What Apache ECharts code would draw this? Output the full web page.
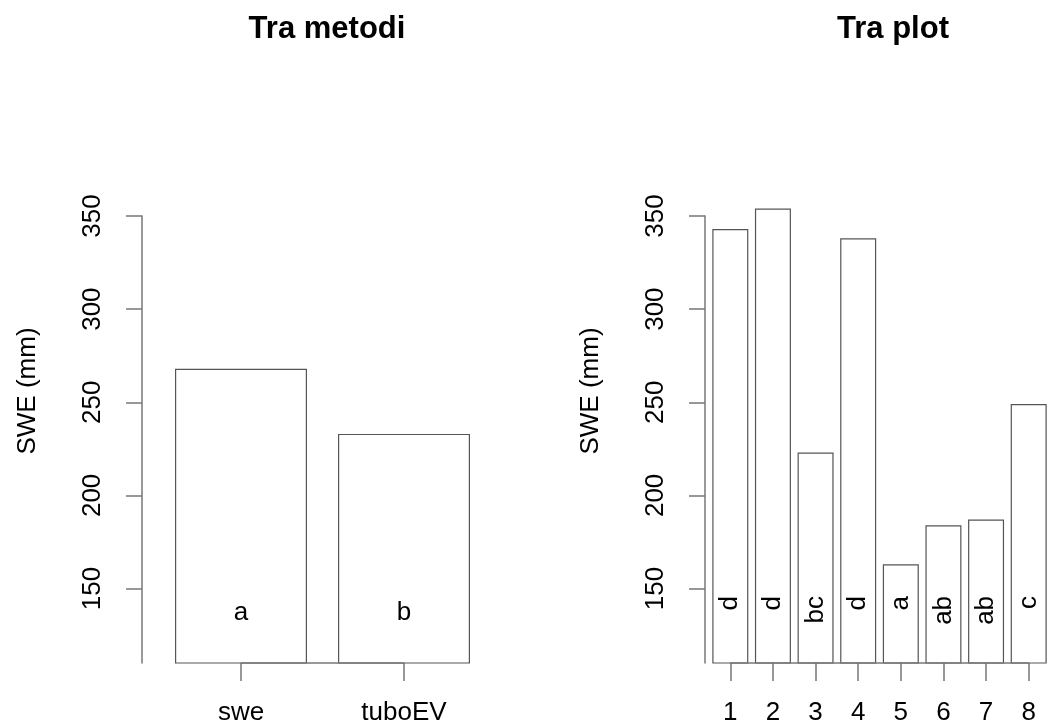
<!DOCTYPE html>
<html>
<head>
<meta charset="utf-8">
<script src="https://cdn.jsdelivr.net/npm/echarts@6/dist/echarts.min.js"></script>
<style>
html,body{margin:0;padding:0;background:#fff;}
#chart{width:1050px;height:728px;}
</style>
</head>
<body>
<div id="chart"></div>
<script>
// ---- data ----
const leftCategories = ['swe', 'tuboEV'];
const leftValues = [268, 233];
const leftLetters = ['a', 'b'];
const rightCategories = ['1', '2', '3', '4', '5', '6', '7', '8'];
const rightValues = [343, 354, 223, 338, 163, 184, 187, 249];
const rightLetters = ['d', 'd', 'bc', 'd', 'a', 'ab', 'ab', 'c'];
const yTickValues = [150, 200, 250, 300, 350];
const yMin = 110;
const yAxisMax = 350;   // top of the drawn y axis line
const yPlotMax = 360;   // top of the bar plotting area (bars may exceed the axis)
const leftLetterY = 137;
const rightLetterY = 146;
const titles = ['Tra metodi', 'Tra plot'];
const yName = 'SWE (mm)';

// ---- layout ----
const FONT = 'Liberation Sans, Arial, Helvetica, sans-serif';
const AXIS_COLOR = '#777';
const AXIS_TOP = 216, AXIS_BOTTOM = 663;
const PX_PER_UNIT = (AXIS_BOTTOM - AXIS_TOP) / (yAxisMax - yMin);
const PLOT_TOP = AXIS_BOTTOM - (yPlotMax - yMin) * PX_PER_UNIT;
const panels = [
  {left: 159.5, width: 326, offset: 17.5, barWidth: 132},
  {left: 709, width: 351, offset: 4, barWidth: 36}
];

const chart = echarts.init(document.getElementById('chart'), null, {renderer: 'canvas'});

const grids = [], xAxes = [], yAxes = [];
panels.forEach((p, k) => {
  const cats = k === 0 ? leftCategories : rightCategories;
  grids.push({left: p.left, width: p.width, top: PLOT_TOP, height: AXIS_BOTTOM - PLOT_TOP});
  grids.push({left: p.left, width: p.width, top: AXIS_TOP, height: AXIS_BOTTOM - AXIS_TOP});
  xAxes.push({
    type: 'category', gridIndex: 2 * k, data: cats,
    axisLine: {show: false},
    axisTick: {show: true, alignWithLabel: true, length: 18, lineStyle: {color: AXIS_COLOR, width: 1.5}},
    axisLabel: {show: true, color: '#000', fontSize: 26, fontFamily: FONT, margin: 37, interval: 0},
    splitLine: {show: false}
  });
  xAxes.push({type: 'category', gridIndex: 2 * k + 1, data: cats, show: false});
  yAxes.push({type: 'value', gridIndex: 2 * k, min: yMin, max: yPlotMax, show: false});
  yAxes.push({
    type: 'value', gridIndex: 2 * k + 1, min: yMin, max: yAxisMax, offset: p.offset,
    axisLine: {show: true, lineStyle: {color: AXIS_COLOR, width: 1.5}},
    axisTick: {show: true, length: 16, customValues: yTickValues, lineStyle: {color: AXIS_COLOR, width: 1.5}},
    axisLabel: {show: true, rotate: 90, customValues: yTickValues, color: '#000', fontSize: 26, fontFamily: FONT, margin: 36},
    splitLine: {show: false}
  });
});

function barSeries(k, cats, vals) {
  return {
    type: 'bar', xAxisIndex: 2 * k, yAxisIndex: 2 * k, data: vals, barWidth: panels[k].barWidth,
    silent: true, animation: false,
    itemStyle: {color: '#fff', borderColor: '#555', borderWidth: 1.2},
    markLine: {
      silent: true, symbol: ['none', 'none'], animation: false,
      label: {show: false},
      lineStyle: {color: AXIS_COLOR, width: 1.5, type: 'solid'},
      data: [[{coord: [cats[0], yMin]}, {coord: [cats[cats.length - 1], yMin]}]]
    }
  };
}
function letterSeries(k, cats, letters, yVal, rotated) {
  return {
    type: 'scatter', xAxisIndex: 2 * k, yAxisIndex: 2 * k,
    data: cats.map(c => [c, yVal]),
    symbolSize: 1, itemStyle: {color: 'rgba(0,0,0,0)'}, silent: true, animation: false,
    z: 5,
    label: {
      show: true, position: 'inside',
      formatter: p => letters[p.dataIndex],
      color: '#000', opacity: 1, fontSize: 26, fontFamily: FONT,
      rotate: rotated ? 90 : 0,
      align: rotated ? 'right' : 'center',
      verticalAlign: 'middle'
    }
  };
}

const option = {
  backgroundColor: '#fff',
  animation: false,
  title: [
    {text: titles[0], left: 322, top: 9, textAlign: 'center',
     textStyle: {fontSize: 31, fontWeight: 'bold', fontFamily: FONT, color: '#000'}},
    {text: titles[1], left: 888, top: 9, textAlign: 'center',
     textStyle: {fontSize: 31, fontWeight: 'bold', fontFamily: FONT, color: '#000'}}
  ],
  grid: grids,
  xAxis: xAxes,
  yAxis: yAxes,
  series: [
    barSeries(0, leftCategories, leftValues),
    barSeries(1, rightCategories, rightValues),
    letterSeries(0, leftCategories, leftLetters, leftLetterY, false),
    letterSeries(1, rightCategories, rightLetters, rightLetterY, true)
  ],
  graphic: [
    {type: 'text', x: 28, y: 391, rotation: Math.PI / 2, silent: true,
     style: {text: yName, font: '26px ' + FONT, fill: '#000', textAlign: 'center', textVerticalAlign: 'middle', align: 'center', verticalAlign: 'middle'}},
    {type: 'text', x: 591, y: 391, rotation: Math.PI / 2, silent: true,
     style: {text: yName, font: '26px ' + FONT, fill: '#000', textAlign: 'center', textVerticalAlign: 'middle', align: 'center', verticalAlign: 'middle'}}
  ]
};
chart.setOption(option);
</script>
</body>
</html>
